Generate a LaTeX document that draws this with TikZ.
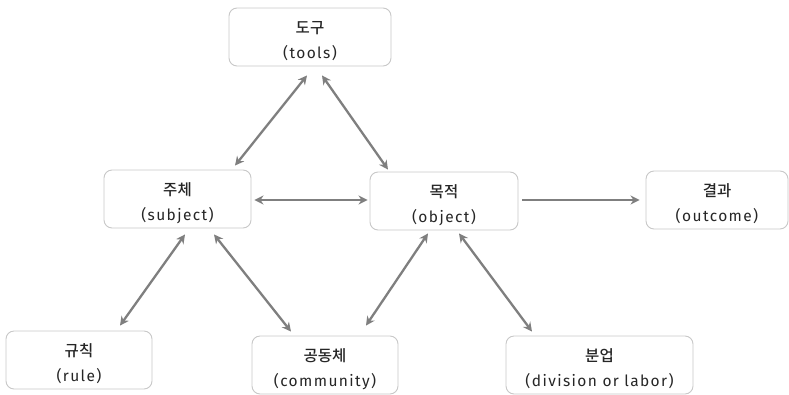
\documentclass[tikz,border=0pt]{standalone}
\usepackage{fontspec}
\setmainfont{Fira Sans}[LetterSpace=9]
\newfontfamily\kor{Noto Sans CJK KR Medium}
\usetikzlibrary{calc,arrows.meta}
\definecolor{boxline}{HTML}{C8C8C8}
\definecolor{arrowgray}{HTML}{7F7F7F}
\definecolor{txt}{HTML}{262626}
\tikzset{
  box/.style={draw=boxline, line width=0.9pt, rounded corners=8pt, fill=white,
    minimum height=58pt, inner sep=0pt},
  boxtext/.style={align=center, text=txt, font=\fontsize{15.5}{25}\selectfont, inner sep=0pt, yshift=-4pt},
  arr/.style={draw=arrowgray, line width=2.3pt, -{Stealth[length=9pt,width=9pt]}},
  darr/.style={draw=arrowgray, line width=2.3pt, {Stealth[length=9pt,width=9pt]}-{Stealth[length=9pt,width=9pt]}}
}
\begin{document}
\begin{tikzpicture}[x=1pt,y=-1pt]
\useasboundingbox (0,0) rectangle (789,394);
\node[box, minimum width=162pt] (tools) at (310,37) {};
\node[boxtext] (toolsT) at (tools.center) {{\kor 도구}\\(tools)};
\node[box, minimum width=147pt] (subject) at (177.5,199) {};
\node[boxtext] (subjectT) at (subject.center) {{\kor 주체}\\(subject)};
\node[box, minimum width=148pt] (object) at (444,201) {};
\node[boxtext] (objectT) at (object.center) {{\kor 목적}\\(object)};
\node[box, minimum width=142pt] (outcome) at (717,200) {};
\node[boxtext] (outcomeT) at (outcome.center) {{\kor 결과}\\(outcome)};
\node[box, minimum width=146pt] (rule) at (79,360) {};
\node[boxtext] (ruleT) at (rule.center) {{\kor 규칙}\\(rule)};
\node[box, minimum width=146pt] (community) at (325,365) {};
\node[boxtext] (communityT) at (community.center) {{\kor 공동체}\\(community)};
\node[box, minimum width=187pt] (division) at (599.5,365) {};
\node[boxtext] (divisionT) at (division.center) {{\kor 분업}\\(division or labor)};
% connectors
\draw[darr] ($(tools.south)+(-3,9)$) -- ($(subject.north)+(57.5,-4)$);
\draw[darr] ($(tools.south)+(12,9)$) -- ($(object.north)+(-56,-2)$);
\draw[darr] ($(subject.east)+(3,1)$) -- ($(object.west)+(-2,-1)$);
\draw[arr] ($(object.east)+(4,-1)$) -- ($(outcome.west)+(-6,0)$);
\draw[darr] ($(subject.south)+(7.5,6)$) -- ($(rule.north)+(41,-5)$);
\draw[darr] ($(subject.south)+(36.5,6)$) -- ($(community.north)+(-34,-4)$);
\draw[darr] ($(object.south)+(-16,3)$) -- ($(community.north)+(41,-10)$);
\draw[darr] ($(object.south)+(15,3)$) -- ($(division.north)+(-67.5,-4)$);
\end{tikzpicture}
\end{document}
